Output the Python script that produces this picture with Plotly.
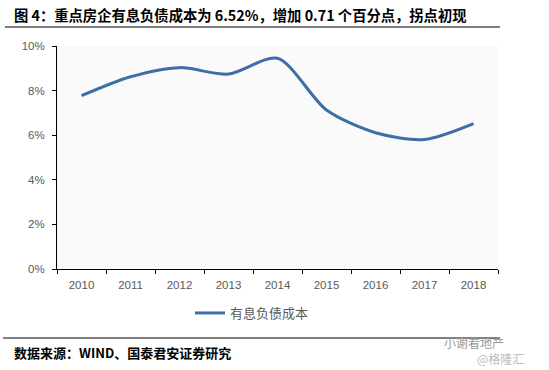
import plotly.graph_objects as go

years = ["2010", "2011", "2012", "2013", "2014", "2015", "2016", "2017", "2018"]
cost = [0.0777, 0.0862, 0.0903, 0.0874, 0.0945, 0.0713, 0.0611, 0.0581, 0.0652]
series_name = "有息负债成本"
title_text = "图 4：重点房企有息负债成本为 6.52%，增加 0.71 个百分点，拐点初现"
source_text = "数据来源：WIND、国泰君安证券研究"

W, H = 549, 370
L, R, T, B = 57, 498, 46, 269

def px(x):
    return (x - L) / (R - L)

def py(y):
    return (B - y) / (B - T)

fig = go.Figure()
fig.add_trace(go.Scatter(
    x=years, y=cost, mode="lines", name=series_name,
    line=dict(color="#3D6EA5", width=3, shape="spline", smoothing=0.8),
))

fig.update_layout(
    width=W, height=H,
    margin=dict(l=L, r=W - R, t=T, b=H - B),
    paper_bgcolor="white",
    plot_bgcolor="#FAFAFA",
    font=dict(family="Liberation Sans, Arial", size=11, color="#595959"),
    showlegend=True,
    legend=dict(orientation="h", x=px(190), xanchor="left", y=py(313), yanchor="middle",
                font=dict(family="Noto Sans CJK SC", size=13, color="#595959"),
                bgcolor="rgba(0,0,0,0)"),
    xaxis=dict(type="category", range=[-0.5, 8.5], showgrid=False, showline=True,
               linecolor="black", linewidth=1,
               ticks="outside", tickson="boundaries", ticklen=4, tickcolor="black",
               ticklabelstandoff=5,
               tickfont=dict(size=11.5, color="#595959"), zeroline=False),
    yaxis=dict(range=[0, 0.1], dtick=0.02, tickformat=".0%", showgrid=False, showline=True,
               linecolor="black", linewidth=1, ticks="outside", ticklen=4, tickcolor="black",
               ticklabelstandoff=5,
               tickfont=dict(size=11.5, color="#595959"), zeroline=False),
)

fig.add_annotation(text=title_text, xref="paper", yref="paper", x=px(12), y=py(14),
                   xanchor="left", yanchor="middle", showarrow=False,
                   font=dict(family="Noto Sans CJK SC", size=14.3, color="black", weight="bold"))
fig.add_annotation(text=source_text, xref="paper", yref="paper", x=px(12), y=py(352),
                   xanchor="left", yanchor="middle", showarrow=False,
                   font=dict(family="Noto Sans CJK SC", size=13, color="black", weight="bold"))
fig.add_annotation(text="小谢看地产", xref="paper", yref="paper", x=px(506), y=py(342),
                   xanchor="right", yanchor="middle", showarrow=False,
                   font=dict(family="Noto Sans CJK SC", size=12, color="#9A9A9A"))
fig.add_annotation(text="@格隆汇", xref="paper", yref="paper", x=px(526), y=py(358),
                   xanchor="right", yanchor="middle", showarrow=False,
                   font=dict(family="Noto Sans CJK SC", size=12, color="#BBBBBB"))

fig.add_shape(type="line", xref="paper", yref="paper", x0=px(5), x1=px(500), y0=py(27), y1=py(27),
              line=dict(color="black", width=1))
fig.add_shape(type="line", xref="paper", yref="paper", x0=px(3), x1=px(500), y0=py(338), y1=py(338),
              line=dict(color="black", width=1))

fig.write_html("out.html", config={"displayModeBar": False},
               post_script="document.body.style.margin='0';document.body.style.overflow='hidden';")
